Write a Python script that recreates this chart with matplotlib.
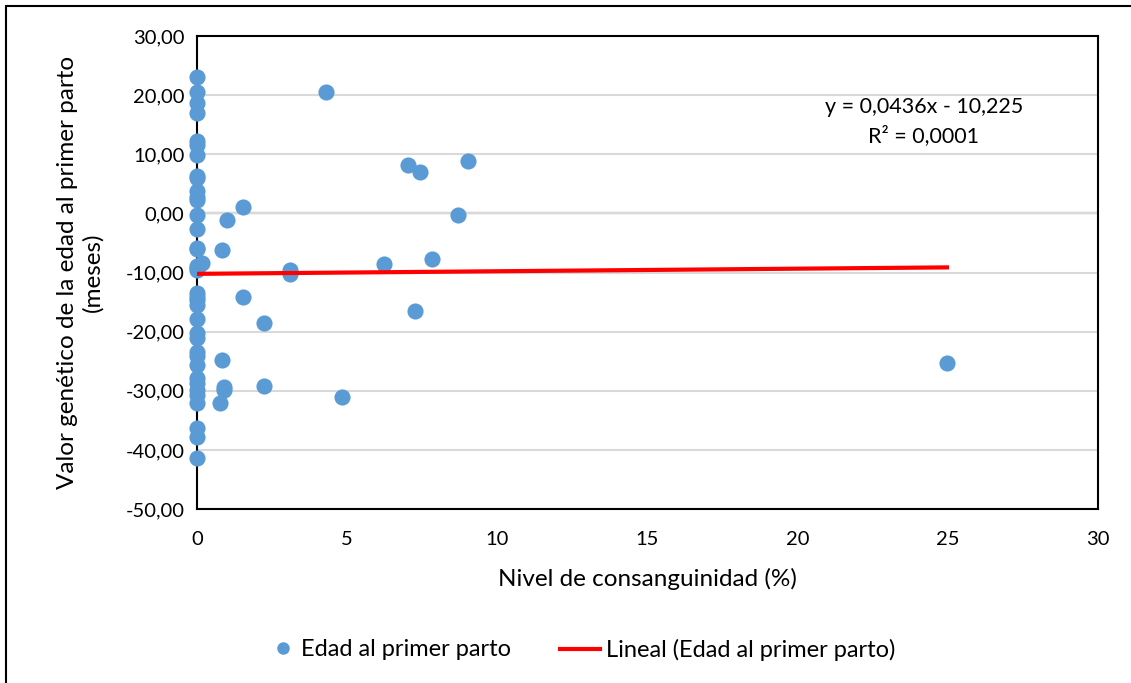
import matplotlib
matplotlib.use("Agg")
import matplotlib.pyplot as plt
from matplotlib.patches import Rectangle
from matplotlib.lines import Line2D
import numpy as np

plt.rcParams['font.family'] = ['Lato', 'DejaVu Sans']

# Data
consanguinidad = [
    0, 0, 0, 0, 0, 0, 0, 0, 0, 0, 0, 0, 0, 0,
    0, 0, 0, 0, 0, 0, 0, 0, 0, 0, 0, 0, 0, 0, 0, 0, 0, 0, 0, 0, 0, 0, 0,
    0.15, 1.54, 0.99, 0.82, 3.1, 3.1, 1.54, 2.24, 0.82, 0.91, 0.91, 2.24, 0.77,
    4.3, 7.03, 7.43, 9.02, 8.69, 6.23, 7.83, 7.26, 4.83, 24.97,
]
edad_parto = [
    23.1, 20.5, 18.7, 17.0, 12.3, 11.6, 9.8, 6.4, 6.0, 3.8, 2.7, 2.2, -0.2, -2.6,
    -5.9, -8.9, -9.6, -13.5, -14.6, -15.5, -17.9, -20.3, -21.1, -23.4, -24.2,
    -25.6, -27.9, -28.7, -29.9, -30.7, -32.1, -36.3, -37.8, -41.4, -9.2, -6.0, -14.2,
    -8.4, 1.1, -1.1, -6.2, -9.6, -10.3, -14.1, -18.6, -24.8, -29.4, -29.8, -29.2, -32.1,
    20.5, 8.1, 7.0, 8.9, -0.3, -8.5, -7.7, -16.5, -31.0, -25.3,
]
pendiente = 0.0436
intercepto = -10.225
r2_texto = "R² = 0,0001"
eq_texto = "y = 0,0436x - 10,225"

xticks = [0, 5, 10, 15, 20, 25, 30]
yticks = [30, 20, 10, 0, -10, -20, -30, -40, -50]

blue = "#5B9BD5"
W, H = 1131, 683
fig = plt.figure(figsize=(11.31, 6.83), dpi=100)
ax = fig.add_axes([197/W, 1-509/H, (1098-197)/W, (509-36)/H])

ax.set_xlim(0, 30)
ax.set_ylim(-50, 30)
ax.set_yticks(yticks)
ax.set_xticks(xticks)
ax.set_yticklabels([f"{v:.2f}".replace('.', ',') for v in yticks], fontsize=14.5)
ax.set_xticklabels([str(v) for v in xticks], fontsize=14.5)
ax.tick_params(axis='x', length=0, pad=16)
ax.tick_params(axis='y', length=0, pad=9)
ax.grid(axis='y', color='#D9D9D9', linewidth=1.5, zorder=0)
ax.axhline(0, color='black', linewidth=1.5, zorder=1)
for s in ax.spines.values():
    s.set_color('black')
    s.set_linewidth(1.5)

ax.scatter(consanguinidad, edad_parto, s=135, color=blue, zorder=3, linewidths=0, clip_on=False)
xl = np.array([0, max(consanguinidad)])
ax.plot(xl, pendiente * xl + intercepto, color='#FF0000', linewidth=3, zorder=4)

fig.text(924/W, 1-107/H, eq_texto, fontsize=15.5, ha='center', va='center')
fig.text(924/W, 1-136/H, r2_texto, fontsize=15.5, ha='center', va='center')

ax.set_xlabel("Nivel de consanguinidad (%)", fontsize=17.5, labelpad=14)
ax.set_ylabel("Valor genético de la edad al primer parto\n(meses)", fontsize=17.5, labelpad=16,
              linespacing=1.2)
ax.yaxis.label.set_y((509 - 272) / (509 - 36))

# legend (two parts to match spacing)
fs = 17
em = fs * 100 / 72
h1 = Line2D([], [], marker='o', linestyle='none', markersize=9, color=blue, markeredgewidth=0)
h2 = Line2D([], [], color='#FF0000', linewidth=3)
leg1 = fig.legend([h1], ["Edad al primer parto"], loc='center left',
                  bbox_to_anchor=((283 - em / 2) / W, 1 - 650 / H), frameon=False,
                  fontsize=fs, handlelength=1.0, handletextpad=0.25, borderpad=0, borderaxespad=0)
leg2 = fig.legend([h2], ["Lineal (Edad al primer parto)"], loc='center left',
                  bbox_to_anchor=(560 / W, 1 - 650 / H), frameon=False,
                  fontsize=fs, handlelength=40 / em, handletextpad=0.25, borderpad=0, borderaxespad=0)

# figure border
fig.patches.append(Rectangle((6/W, -0.1), 1.2, 1-6/H+0.1, transform=fig.transFigure,
                             fill=False, edgecolor='black', linewidth=1.5))

fig.savefig("out.png", dpi=100)
